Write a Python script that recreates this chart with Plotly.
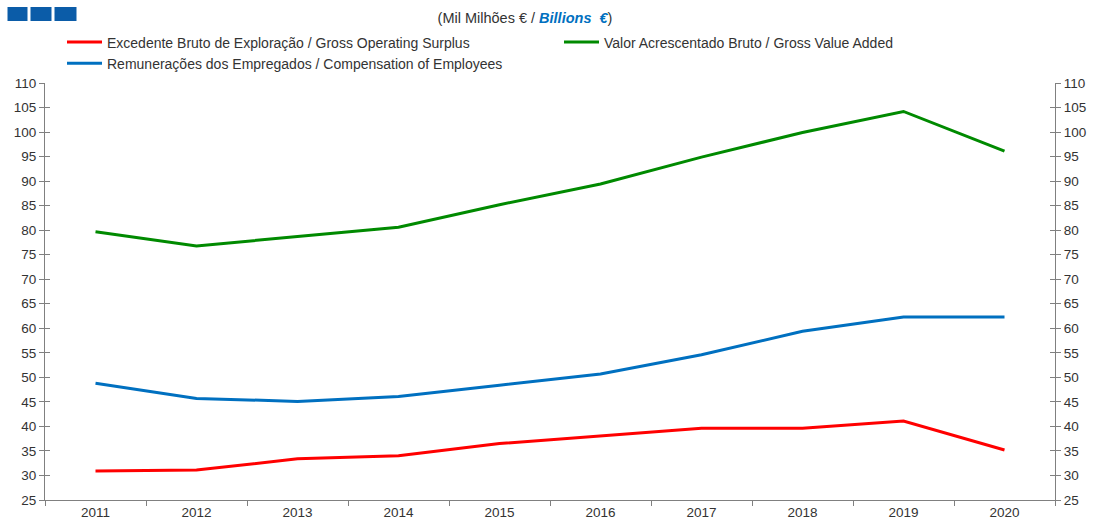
import plotly.graph_objects as go

years = ["2011", "2012", "2013", "2014", "2015", "2016", "2017", "2018", "2019", "2020"]
gross_operating_surplus = [30.9, 31.1, 33.4, 34.0, 36.5, 38.0, 39.6, 39.6, 41.1, 35.2]
gross_value_added = [79.7, 76.8, 78.7, 80.6, 85.2, 89.4, 94.9, 99.9, 104.2, 96.1]
compensation_employees = [48.8, 45.7, 45.1, 46.1, 48.4, 50.7, 54.6, 59.4, 62.3, 62.3]

names = [
    "Excedente Bruto de Exploração / Gross Operating Surplus",
    "Valor Acrescentado Bruto / Gross Value Added",
    "Remunerações dos Empregados / Compensation of Employees",
]
colors = ["#ff0000", "#008a00", "#0070c0"]
series = [gross_operating_surplus, gross_value_added, compensation_employees]

W, H = 1095, 522
L, R, T, B = 45, 40, 83, 22
FONT = "Liberation Sans, Arial, sans-serif"

fig = go.Figure()
for n, c, s in zip(names, colors, series):
    fig.add_trace(go.Scatter(x=years, y=s, name=n, mode="lines",
                             line=dict(color=c, width=3), hoverinfo="x+y+name"))

# invisible helpers for right axis and crossing ticks
fig.add_trace(go.Scatter(x=years, y=gross_value_added, yaxis="y2", mode="lines",
                         line=dict(width=0), opacity=0, showlegend=False, hoverinfo="skip"))
fig.add_trace(go.Scatter(x=years, y=gross_value_added, yaxis="y3", mode="lines",
                         line=dict(width=0), opacity=0, showlegend=False, hoverinfo="skip"))

yrange = [25, 110]
axis_col = "#808080"
tickfont = dict(family=FONT, size=13.5, color="#333333")

def px_x(p):
    return (p - L) / (W - L - R)

def px_y(p):
    return (H - B - p) / (H - T - B)

shapes = []
for x0, x1 in [(7.5, 27.5), (30.5, 51.5), (54.5, 76.5)]:
    shapes.append(dict(type="rect", xref="paper", yref="paper",
                       x0=px_x(x0), x1=px_x(x1), y0=px_y(21), y1=px_y(7),
                       fillcolor="#0b5ca8", line=dict(width=0)))

fig.update_layout(
    width=W, height=H,
    margin=dict(l=L, r=R, t=T, b=B, autoexpand=False),
    paper_bgcolor="white", plot_bgcolor="white",
    font=dict(family=FONT, size=13, color="#333333"),
    title=dict(
        text="(Mil Milhões € / <b><i><span style='color:#0070c0'>Billions  €</span></i></b>)",
        x=525 / W, xref="container", xanchor="center",
        y=1 - 18 / H, yref="container", yanchor="middle",
        font=dict(family=FONT, size=14.5, color="#333333"),
    ),
    showlegend=True,
    legend=dict(
        orientation="h", x=px_x(62), xanchor="left", y=px_y(26.5), yanchor="top",
        entrywidth=447, entrywidthmode="pixels",
        font=dict(family=FONT, size=14, color="#333333"),
        bgcolor="rgba(0,0,0,0)", itemwidth=35, tracegroupgap=0,
    ),
    xaxis=dict(
        type="category", range=[-0.5, 9.5], showgrid=False, zeroline=False,
        showline=True, linecolor=axis_col, linewidth=1,
        ticks="outside", ticklen=5, tickcolor=axis_col, tickson="boundaries",
        tickfont=dict(family=FONT, size=13.5, color="#333333"), automargin=False,
    ),
    yaxis=dict(
        range=yrange, dtick=5, showgrid=False, zeroline=False,
        showline=True, linecolor=axis_col, linewidth=1,
        ticks="outside", ticklen=5, tickcolor=axis_col, tickfont=tickfont, automargin=False,
    ),
    yaxis2=dict(
        range=yrange, dtick=5, overlaying="y", side="right", showgrid=False, zeroline=False,
        showline=True, linecolor=axis_col, linewidth=1,
        ticks="outside", ticklen=5, tickcolor=axis_col, tickfont=tickfont, automargin=False,
    ),
    yaxis3=dict(
        range=yrange, dtick=5, overlaying="y", side="left", showgrid=False, zeroline=False,
        showline=False, ticks="inside", ticklen=5, tickcolor=axis_col,
        mirror="allticks", showticklabels=False, automargin=False,
    ),
    shapes=shapes,
)

fig.write_html("out.html", config={"displayModeBar": False},
               post_script="document.body.style.margin='0px';document.body.style.overflow='hidden';")
